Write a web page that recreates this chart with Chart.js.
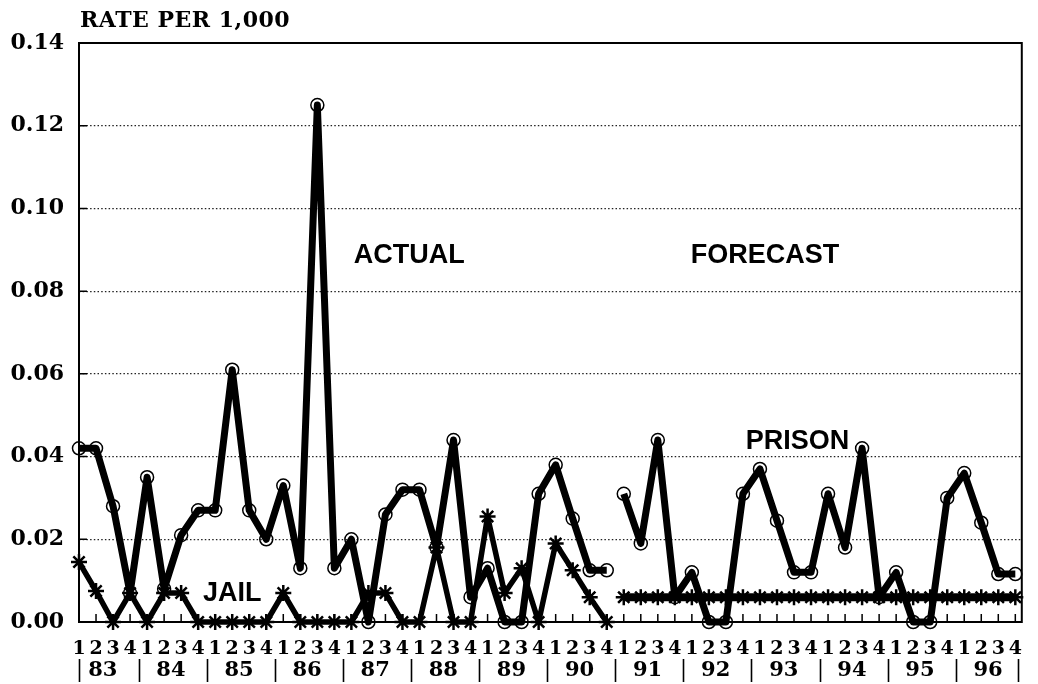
<!DOCTYPE html>
<html>
<head>
<meta charset="utf-8">
<title>Rate per 1,000</title>
<script src="https://cdn.jsdelivr.net/npm/chart.js@4.4.1/dist/chart.umd.min.js"></script>
<style>
  html, body { margin: 0; padding: 0; background: #fff; }
  #wrap { width: 1038px; height: 684px; position: relative; }
</style>
</head>
<body>
<div id="wrap"><canvas id="rateChart"></canvas></div>
<script>
// Quarterly rate per 1,000, 83Q1 .. 96Q4. Actual through 90Q4, forecast from 91Q1.
const years = ['83', '84', '85', '86', '87', '88', '89', '90', '91', '92', '93', '94', '95', '96'];
const quarters = ['1', '2', '3', '4'];

const prisonActual = [
    0.042, 0.042, 0.028, 0.007,   0.035, 0.008, 0.021, 0.027,
    0.027, 0.061, 0.027, 0.020,   0.033, 0.013, 0.125, 0.013,
    0.020, 0.000, 0.026, 0.032,   0.032, 0.018, 0.044, 0.006,
    0.013, 0.000, 0.000, 0.031,   0.038, 0.025, 0.0125, 0.0125
];
const jailActual = [
    0.0145, 0.0075, 0.000, 0.007,  0.000, 0.007, 0.007, 0.000,
    0.000, 0.000, 0.000, 0.000,    0.007, 0.000, 0.000, 0.000,
    0.000, 0.007, 0.007, 0.000,    0.000, 0.018, 0.000, 0.000,
    0.0255, 0.007, 0.013, 0.000,   0.019, 0.0125, 0.006, 0.000
];
const prisonForecast = [
    0.031, 0.019, 0.044, 0.006,   0.012, 0.000, 0.000, 0.031,
    0.037, 0.0245, 0.012, 0.012,  0.031, 0.018, 0.042, 0.006,
    0.012, 0.000, 0.000, 0.030,   0.036, 0.024, 0.0116, 0.0116
];
const jailForecast = [
    0.006, 0.006, 0.006, 0.006,   0.006, 0.006, 0.006, 0.006,
    0.006, 0.006, 0.006, 0.006,   0.006, 0.006, 0.006, 0.006,
    0.006, 0.006, 0.006, 0.006,   0.006, 0.006, 0.006, 0.006
];

// one label per quarter, 1 2 3 4 repeated for every year
const quarterLabels = [];
years.forEach(() => quarters.forEach(q => quarterLabels.push(q)));

const forecastStart = prisonActual.length;

function toPoints(values, start) {
    return values.map((v, i) => ({ x: start + i, y: v }));
}

const SERIF = '"DejaVu Serif", serif';
const SANS = '"Liberation Sans", Arial, sans-serif';

// text placed on the plot, in axis units
const notes = [
    { text: 'ACTUAL', x: 19.4, y: 0.0887 },
    { text: 'FORECAST', x: 40.3, y: 0.0887 },
    { text: 'PRISON', x: 42.2, y: 0.0436 },
    { text: 'JAIL', x: 9.0, y: 0.0070 }
];

const framePlugin = {
    id: 'frame',
    beforeDatasetsDraw(chart) {
        const { ctx, chartArea: a, scales: { x, y } } = chart;
        ctx.save();
        ctx.strokeStyle = '#000';
        ctx.lineWidth = 2;
        ctx.strokeRect(a.left, a.top, a.right - a.left, a.bottom - a.top);

        // short ticks inside the frame
        ctx.lineWidth = 1.5;
        ctx.beginPath();
        y.ticks.forEach(t => {
            const py = y.getPixelForValue(t.value);
            ctx.moveTo(a.left, py);
            ctx.lineTo(a.left + 8, py);
        });
        quarterLabels.forEach((q, i) => {
            const px = x.getPixelForValue(i);
            ctx.moveTo(px, a.bottom);
            ctx.lineTo(px, a.bottom - 8);
        });
        ctx.stroke();
        ctx.restore();
    },
    afterDatasetsDraw(chart) {
        const { ctx, scales: { x, y } } = chart;
        ctx.save();
        ctx.fillStyle = '#000';
        ctx.font = 'bold 27px ' + SANS;
        ctx.textAlign = 'center';
        ctx.textBaseline = 'middle';
        notes.forEach(n => ctx.fillText(n.text, x.getPixelForValue(n.x), y.getPixelForValue(n.y)));
        ctx.restore();
    },
    afterDraw(chart) {
        const { ctx, chartArea: a, scales: { x } } = chart;
        ctx.save();
        ctx.fillStyle = '#000';

        // axis title
        ctx.font = 'bold 22px ' + SERIF;
        ctx.letterSpacing = '0.5px';
        ctx.textAlign = 'left';
        ctx.textBaseline = 'middle';
        ctx.fillText('RATE PER 1,000', a.left + 1, 21);
        ctx.letterSpacing = '0px';

        // year row under the quarter numbers
        ctx.font = 'bold 21px ' + SERIF;
        ctx.textAlign = 'center';
        years.forEach((yr, k) => {
            ctx.fillText(yr, x.getPixelForValue(k * 4 + 1.4), 671);
        });
        ctx.strokeStyle = '#000';
        ctx.lineWidth = 1.6;
        ctx.beginPath();
        for (let k = 0; k <= years.length; k++) {
            const v = Math.min(Math.max(k * 4 - 0.5, 0), quarterLabels.length - 0.85);
            const px = Math.round(x.getPixelForValue(v)) + 0.5;
            ctx.moveTo(px, 659);
            ctx.lineTo(px, 682);
        }
        ctx.stroke();
        ctx.restore();
    }
};

const prisonStyle = {
    borderColor: '#000',
    borderWidth: 7,
    borderJoinStyle: 'round',
    pointStyle: 'circle',
    pointRadius: 6.5,
    pointBorderWidth: 1.5,
    pointBorderColor: '#000',
    pointBackgroundColor: 'rgba(0,0,0,0)',
    tension: 0,
    clip: 14
};
const jailStyle = {
    borderColor: '#000',
    borderWidth: 5.5,
    borderJoinStyle: 'round',
    pointStyle: 'star',
    pointRadius: 8,
    pointBorderWidth: 2.5,
    pointBorderColor: '#000',
    pointBackgroundColor: '#000',
    tension: 0,
    clip: 14
};

new Chart(document.getElementById('rateChart').getContext('2d'), {
    type: 'line',
    data: {
        datasets: [
            Object.assign({ label: 'Jail actual', data: toPoints(jailActual, 0) }, jailStyle),
            Object.assign({ label: 'Jail forecast', data: toPoints(jailForecast, forecastStart) }, jailStyle, { borderWidth: 8 }),
            Object.assign({ label: 'Prison actual', data: toPoints(prisonActual, 0) }, prisonStyle),
            Object.assign({ label: 'Prison forecast', data: toPoints(prisonForecast, forecastStart) }, prisonStyle)
        ]
    },
    options: {
        responsive: true,
        maintainAspectRatio: false,
        animation: false,
        layout: { padding: { top: 43, right: 2, left: 0, bottom: 0 } },
        plugins: {
            legend: { display: false },
            tooltip: { enabled: false }
        },
        scales: {
            x: {
                type: 'linear',
                min: 0,
                max: quarterLabels.length - 0.62,
                afterFit(scale) { scale.height = 62; },
                grid: { display: false, drawTicks: false },
                border: { display: false },
                ticks: {
                    stepSize: 1,
                    autoSkip: false,
                    maxRotation: 0,
                    includeBounds: false,
                    padding: 16,
                    color: '#000',
                    font: { family: SERIF, size: 19, weight: 'bold' },
                    callback: v => Number.isInteger(v) ? quarterLabels[v] : ''
                }
            },
            y: {
                min: 0,
                max: 0.14,
                afterFit(scale) { scale.width = 79; },
                grid: { color: '#222', lineWidth: 1.2, drawTicks: false },
                border: { display: false, dash: [1.5, 2.2] },
                ticks: {
                    stepSize: 0.02,
                    padding: 15,
                    color: '#000',
                    font: { family: SERIF, size: 22, weight: 'bold' },
                    callback: v => v.toFixed(2)
                }
            }
        }
    },
    plugins: [framePlugin]
});
</script>
</body>
</html>
